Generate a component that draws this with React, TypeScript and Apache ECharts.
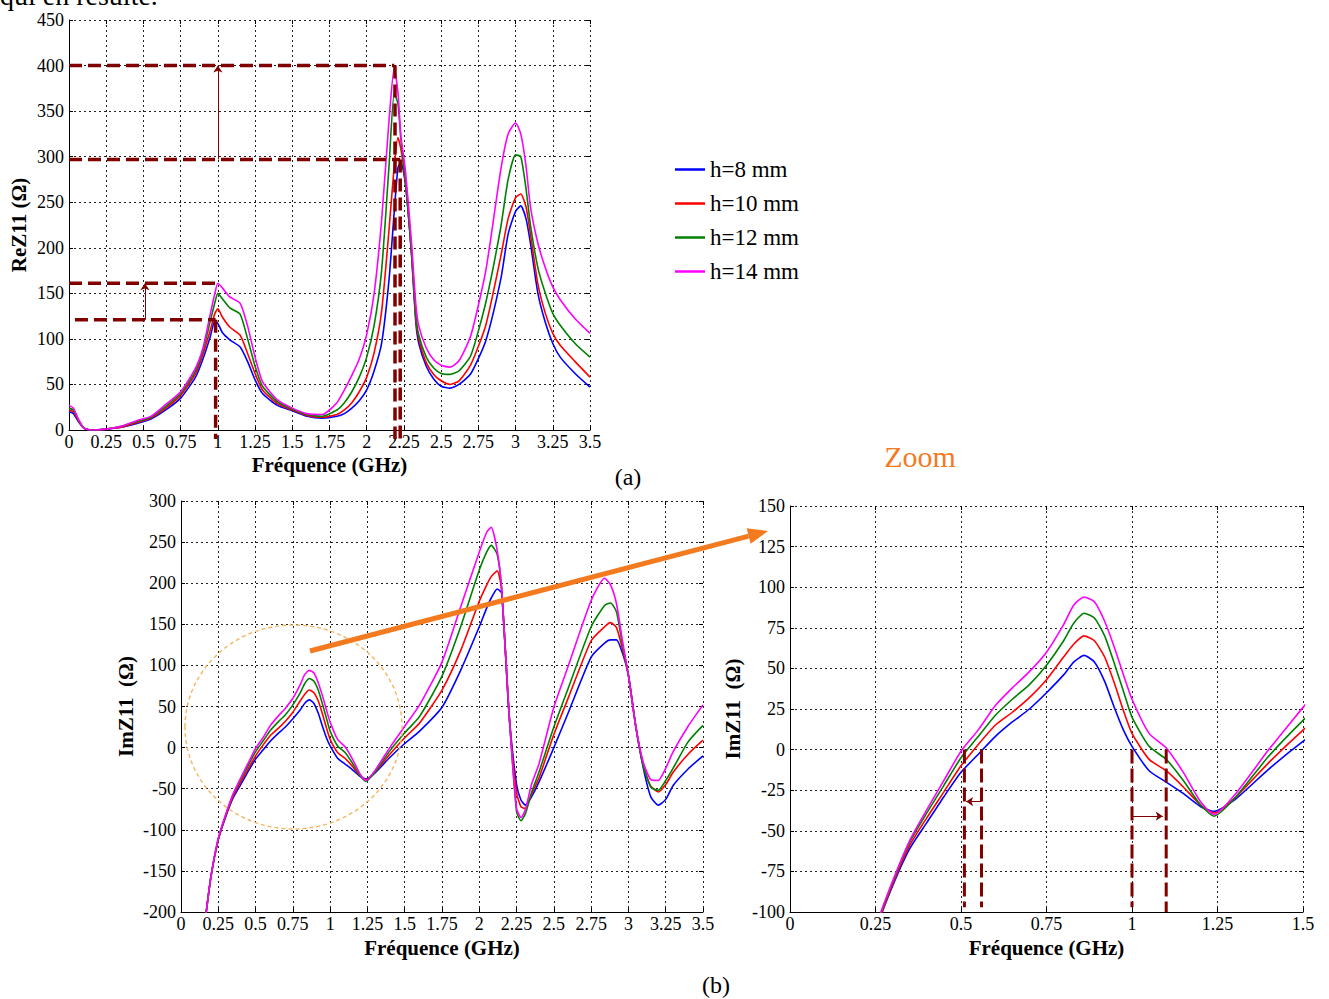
import React, { useEffect, useRef } from "react";
import * as echarts from "echarts";

// ---------- data ----------
const seriesNames = ["h=8 mm", "h=10 mm", "h=12 mm", "h=14 mm"];
const seriesColors = ["#0000FF", "#FF0000", "#008000", "#FF00FF"];

// (a) ReZ11 (Ohm) vs frequency (GHz)
const freqRe = [0, 0.03, 0.06, 0.1, 0.15, 0.25, 0.35, 0.45, 0.55, 0.65, 0.75, 0.85, 0.9, 0.95, 0.98, 1.0, 1.03, 1.08, 1.15, 1.2, 1.25, 1.3, 1.4, 1.5, 1.6, 1.7, 1.8, 1.85, 1.9, 1.95, 2.0, 2.05, 2.1, 2.15, 2.185, 2.21, 2.23, 2.26, 2.3, 2.33, 2.35, 2.4, 2.45, 2.5, 2.56, 2.62, 2.7, 2.8, 2.9, 2.95, 3.0, 3.035, 3.07, 3.1, 3.15, 3.2, 3.25, 3.3, 3.4, 3.5];
const reZ8 = [20, 18, 10, 2, 0, 1, 3, 7, 12, 22, 35, 58, 78, 103, 120, 117, 107, 99, 91, 75, 55, 40, 27, 21, 15, 13, 15, 18, 24, 32, 44, 65, 95, 165, 240, 288, 294, 270, 195, 118, 95, 70, 56, 48, 46, 50, 62, 98, 165, 215, 240, 246, 232, 205, 150, 118, 95, 80, 62, 47];
const reZ10 = [22, 20, 11, 2, 0, 1, 3, 8, 13, 24, 38, 62, 83, 110, 128, 133, 124, 113, 104, 84, 62, 44, 29, 22, 16, 14, 17, 22, 30, 42, 58, 85, 130, 220, 290, 321, 308, 272, 196, 122, 100, 74, 61, 54, 50, 54, 72, 115, 190, 232, 255, 259, 245, 215, 160, 128, 106, 93, 75, 58];
const reZ12 = [24, 22, 12, 2, 0, 1, 4, 9, 14, 26, 40, 65, 87, 120, 140, 150, 144, 134, 127, 100, 70, 48, 31, 23, 17, 15, 22, 30, 42, 58, 80, 115, 175, 290, 370, 358, 318, 275, 198, 126, 104, 80, 68, 62, 61, 65, 82, 140, 222, 275, 302, 300, 265, 225, 178, 150, 128, 115, 95, 80];
const reZ14 = [27, 24, 13, 2, 0, 1, 4, 10, 15, 28, 42, 68, 90, 128, 150, 161, 156, 146, 139, 114, 80, 53, 33, 24, 18, 17, 30, 44, 60, 78, 105, 150, 230, 340, 398, 370, 322, 285, 208, 138, 114, 90, 77, 71, 69, 76, 104, 175, 285, 325, 337, 325, 290, 245, 205, 178, 157, 143, 122, 106];

// (b) ImZ11 (Ohm) vs frequency (GHz) — the same data is drawn in the zoom panel
const freqIm = [0.15, 0.2, 0.25, 0.3, 0.35, 0.4, 0.45, 0.5, 0.55, 0.6, 0.65, 0.7, 0.75, 0.8, 0.83, 0.86, 0.89, 0.92, 0.95, 0.975, 1.0, 1.05, 1.1, 1.15, 1.2, 1.24, 1.3, 1.4, 1.5, 1.6, 1.75, 1.875, 2.0, 2.05, 2.08, 2.12, 2.15, 2.2, 2.25, 2.28, 2.31, 2.35, 2.4, 2.5, 2.6, 2.75, 2.84, 2.88, 2.92, 2.96, 3.0, 3.05, 3.1, 3.15, 3.2, 3.25, 3.3, 3.4, 3.5];
const imZ8 = [-228, -158, -112, -84, -61, -45, -29, -14, -3, 8, 17, 25, 35, 46, 54, 58, 54, 42, 25, 12, 2, -13, -20, -27, -35, -38, -31, -12, 5, 20, 49, 94, 147, 170, 182, 193, 188, 40, -45, -64, -70, -60, -42, 0, 44, 110, 127, 131, 131, 115, 88, 25, -25, -60, -70, -63, -46, -26, -10];
const imZ10 = [-228, -158, -112, -83, -59, -42, -26, -10, 3, 15, 23, 32, 43, 57, 65, 70, 67, 57, 40, 24, 10, -6, -13, -23, -34, -39, -30, -8, 12, 30, 70, 118, 178, 198, 208, 215, 192, 40, -55, -72, -74, -57, -37, 16, 62, 130, 147, 152, 146, 120, 88, 25, -22, -47, -54, -45, -30, -8, 9];
const imZ12 = [-228, -158, -111, -82, -57, -39, -22, -5, 8, 21, 31, 40, 52, 67, 78, 84, 81, 70, 52, 36, 20, 2, -6, -19, -34, -41, -30, -4, 18, 38, 87, 147, 216, 238, 246, 235, 192, 40, -78, -89, -80, -55, -30, 25, 74, 147, 173, 176, 165, 125, 88, 25, -22, -48, -52, -40, -25, 7, 27];
const imZ14 = [-228, -158, -110, -81, -56, -37, -19, -1, 12, 27, 38, 48, 60, 77, 89, 94, 91, 79, 62, 46, 31, 10, 1, -14, -32, -40, -28, 0, 26, 52, 104, 171, 238, 262, 268, 240, 195, 40, -74, -85, -75, -45, -20, 49, 101, 179, 206, 198, 175, 130, 88, 25, -18, -39, -40, -25, -5, 26, 52];

// annotation segments in data units: [x1, y1, x2, y2]
const reDashed = [
  [0, 400, 2.185, 400],
  [0, 297, 2.225, 297],
  [0, 161, 1.0, 161],
  [0.04, 121, 0.985, 121],
  [2.19, 400, 2.19, -10],
  [2.225, 297, 2.225, -10],
  [0.985, 121, 0.985, -10],
];
const reArrows = [
  [1.0, 297, 1.0, 400],
  [0.51, 121, 0.51, 161],
];
const zoomDashed = [
  [0.51, 0, 0.51, -97],
  [0.56, 0, 0.56, -97],
  [1.0, 0, 1.0, -97],
  [1.1, 0, 1.1, -100],
];
const zoomArrows = [
  [0.56, -32, 0.515, -32],
  [1.0, -41, 1.09, -41],
];

// ---------- styling helpers ----------
const FONT = "'Liberation Serif', 'Times New Roman', Times, serif";
const DARK_RED = "#800000";
const ORANGE = "#F47A1F";

function xAxisMain(gridIndex: number, max: number, nameGap: number) {
  return {
    type: "value",
    gridIndex,
    position: "bottom",
    min: 0,
    max,
    interval: 0.25,
    name: "Fréquence (GHz)",
    nameLocation: "middle",
    nameGap,
    nameTextStyle: { fontFamily: FONT, fontWeight: "bold", fontSize: 21, color: "#000" },
    axisLine: { show: true, onZero: false, lineStyle: { color: "#000", width: 1 } },
    axisTick: { show: true, inside: true, length: 4, lineStyle: { color: "#000" } },
    axisLabel: { fontFamily: FONT, fontSize: 18, color: "#000", margin: 3 },
    splitLine: { show: true, lineStyle: { color: "#222", width: 1, type: [2, 3] } },
  };
}
function xAxisTop(gridIndex: number, max: number) {
  return {
    type: "value",
    gridIndex,
    position: "top",
    min: 0,
    max,
    interval: 0.25,
    axisLine: { show: false, onZero: false },
    axisTick: { show: true, inside: true, length: 4, lineStyle: { color: "#000" } },
    axisLabel: { show: false },
    splitLine: { show: false },
  };
}
function yAxisMain(gridIndex: number, min: number, max: number, interval: number, name: string, nameGap: number) {
  return {
    type: "value",
    gridIndex,
    position: "left",
    min,
    max,
    interval,
    name,
    nameLocation: "middle",
    nameGap,
    nameTextStyle: { fontFamily: FONT, fontWeight: "bold", fontSize: 21, color: "#000" },
    axisLine: { show: true, onZero: false, lineStyle: { color: "#000", width: 1 } },
    axisTick: { show: true, inside: true, length: 4, lineStyle: { color: "#000" } },
    axisLabel: { fontFamily: FONT, fontSize: 18, color: "#000", margin: 5 },
    splitLine: { show: true, lineStyle: { color: "#222", width: 1, type: [2, 3] } },
  };
}
function yAxisRight(gridIndex: number, min: number, max: number, interval: number) {
  return {
    type: "value",
    gridIndex,
    position: "right",
    min,
    max,
    interval,
    axisLine: { show: false, onZero: false },
    axisTick: { show: true, inside: true, length: 4, lineStyle: { color: "#000" } },
    axisLabel: { show: false },
    splitLine: { show: false },
  };
}

const pairs = (xs: number[], ys: number[]) => xs.map((x, i) => [x, ys[i]]);

function curveSeries(axisIndex: number, xs: number[], ysList: number[][]) {
  return ysList.map((ys, i) => ({
    type: "line",
    name: seriesNames[i],
    xAxisIndex: axisIndex,
    yAxisIndex: axisIndex,
    data: pairs(xs, ys),
    showSymbol: false,
    symbol: "none",
    smooth: 0.2,
    clip: true,
    lineStyle: { width: 1.6, color: seriesColors[i] },
    itemStyle: { color: seriesColors[i] },
    z: 3,
  }));
}

function annotationSeries(axisIndex: number, dashed: number[][], arrows: number[][], dash: number[], width: number) {
  return dashed.map((s, i) => ({
    type: "line",
    xAxisIndex: axisIndex,
    yAxisIndex: axisIndex,
    data: [[s[0], s[1]], [s[2], s[3]]],
    showSymbol: false,
    symbol: "none",
    clip: false,
    silent: true,
    lineStyle: { color: DARK_RED, width, type: dash },
    z: 4,
    markLine:
      i === 0
        ? {
            silent: true,
            symbol: ["none", "arrow"],
            symbolSize: 7,
            label: { show: false },
            lineStyle: { color: DARK_RED, width: 1, type: "solid" },
            data: arrows.map((a) => [{ coord: [a[0], a[1]] }, { coord: [a[2], a[3]] }]),
          }
        : undefined,
  }));
}

// orange arrow geometry (page pixels)
const arrowStart = [310, 651];
const arrowTip = [768, 531];

function buildOption() {
  const dx = arrowTip[0] - arrowStart[0];
  const dy = arrowTip[1] - arrowStart[1];
  const len = Math.sqrt(dx * dx + dy * dy);
  const ux = dx / len;
  const uy = dy / len;
  const headLen = 20;
  const headHalf = 8;
  const bx = arrowTip[0] - ux * headLen;
  const by = arrowTip[1] - uy * headLen;
  const nx = -uy;
  const ny = ux;

  return {
    animation: false,
    backgroundColor: "#fff",
    textStyle: { fontFamily: FONT },
    grid: [
      { left: 69, top: 20, width: 521, height: 410 },
      { left: 181, top: 501, width: 522, height: 411 },
      { left: 790, top: 506, width: 513, height: 406 },
    ],
    xAxis: [
      xAxisMain(0, 3.5, 24),
      xAxisMain(1, 3.5, 25),
      xAxisMain(2, 1.5, 25),
      xAxisTop(0, 3.5),
      xAxisTop(1, 3.5),
      xAxisTop(2, 1.5),
    ],
    yAxis: [
      yAxisMain(0, 0, 450, 50, "ReZ11 (Ω)", 40),
      yAxisMain(1, -200, 300, 50, "ImZ11  (Ω)", 45),
      yAxisMain(2, -100, 150, 25, "ImZ11  (Ω)", 47),
      yAxisRight(0, 0, 450, 50),
      yAxisRight(1, -200, 300, 50),
      yAxisRight(2, -100, 150, 25),
    ],
    legend: {
      data: seriesNames,
      orient: "vertical",
      left: 675,
      top: 158,
      padding: 0,
      icon: "rect",
      itemWidth: 30,
      itemHeight: 2.5,
      itemGap: 11,
      textStyle: { fontFamily: FONT, fontSize: 23, color: "#000" },
    },
    series: [
      ...curveSeries(0, freqRe, [reZ8, reZ10, reZ12, reZ14]),
      ...curveSeries(1, freqIm, [imZ8, imZ10, imZ12, imZ14]),
      ...curveSeries(2, freqIm, [imZ8, imZ10, imZ12, imZ14]),
      ...annotationSeries(0, reDashed, reArrows, [13, 6], 3.5),
      ...annotationSeries(2, zoomDashed, zoomArrows, [14, 5], 3),
    ],
    graphic: [
      {
        type: "text",
        x: 0,
        y: -5,
        style: { text: "qui en résulte.", font: `28px ${FONT}`, fill: "#000", align: "left", verticalAlign: "middle" },
      },
      {
        type: "text",
        x: 628,
        y: 477,
        style: { text: "(a)", font: `24px ${FONT}`, fill: "#000", align: "center", verticalAlign: "middle" },
      },
      {
        type: "text",
        x: 716,
        y: 985,
        style: { text: "(b)", font: `24px ${FONT}`, fill: "#000", align: "center", verticalAlign: "middle" },
      },
      {
        type: "text",
        x: 920,
        y: 456,
        style: { text: "Zoom", font: `30px ${FONT}`, fill: ORANGE, align: "center", verticalAlign: "middle" },
      },
      {
        type: "ellipse",
        shape: { cx: 293.5, cy: 727, rx: 108.5, ry: 102 },
        style: { fill: "none", stroke: "#F7B560", lineWidth: 1.4, lineDash: [4, 3] },
        z: 10,
      },
      {
        type: "line",
        shape: { x1: arrowStart[0], y1: arrowStart[1], x2: bx, y2: by },
        style: { stroke: ORANGE, lineWidth: 5 },
        z: 11,
      },
      {
        type: "polygon",
        shape: {
          points: [
            [arrowTip[0], arrowTip[1]],
            [bx + nx * headHalf, by + ny * headHalf],
            [bx - nx * headHalf, by - ny * headHalf],
          ],
        },
        style: { fill: ORANGE },
        z: 11,
      },
    ],
  };
}

export default function App() {
  const ref = useRef<HTMLDivElement>(null);
  useEffect(() => {
    if (!ref.current) return;
    const chart = echarts.init(ref.current, null, { renderer: "svg" });
    chart.setOption(buildOption() as any);
    return () => {
      chart.dispose();
    };
  }, []);
  return (
    <div
      ref={ref}
      style={{ position: "fixed", left: 0, top: 0, width: 1329, height: 999, background: "#fff" }}
    />
  );
}
